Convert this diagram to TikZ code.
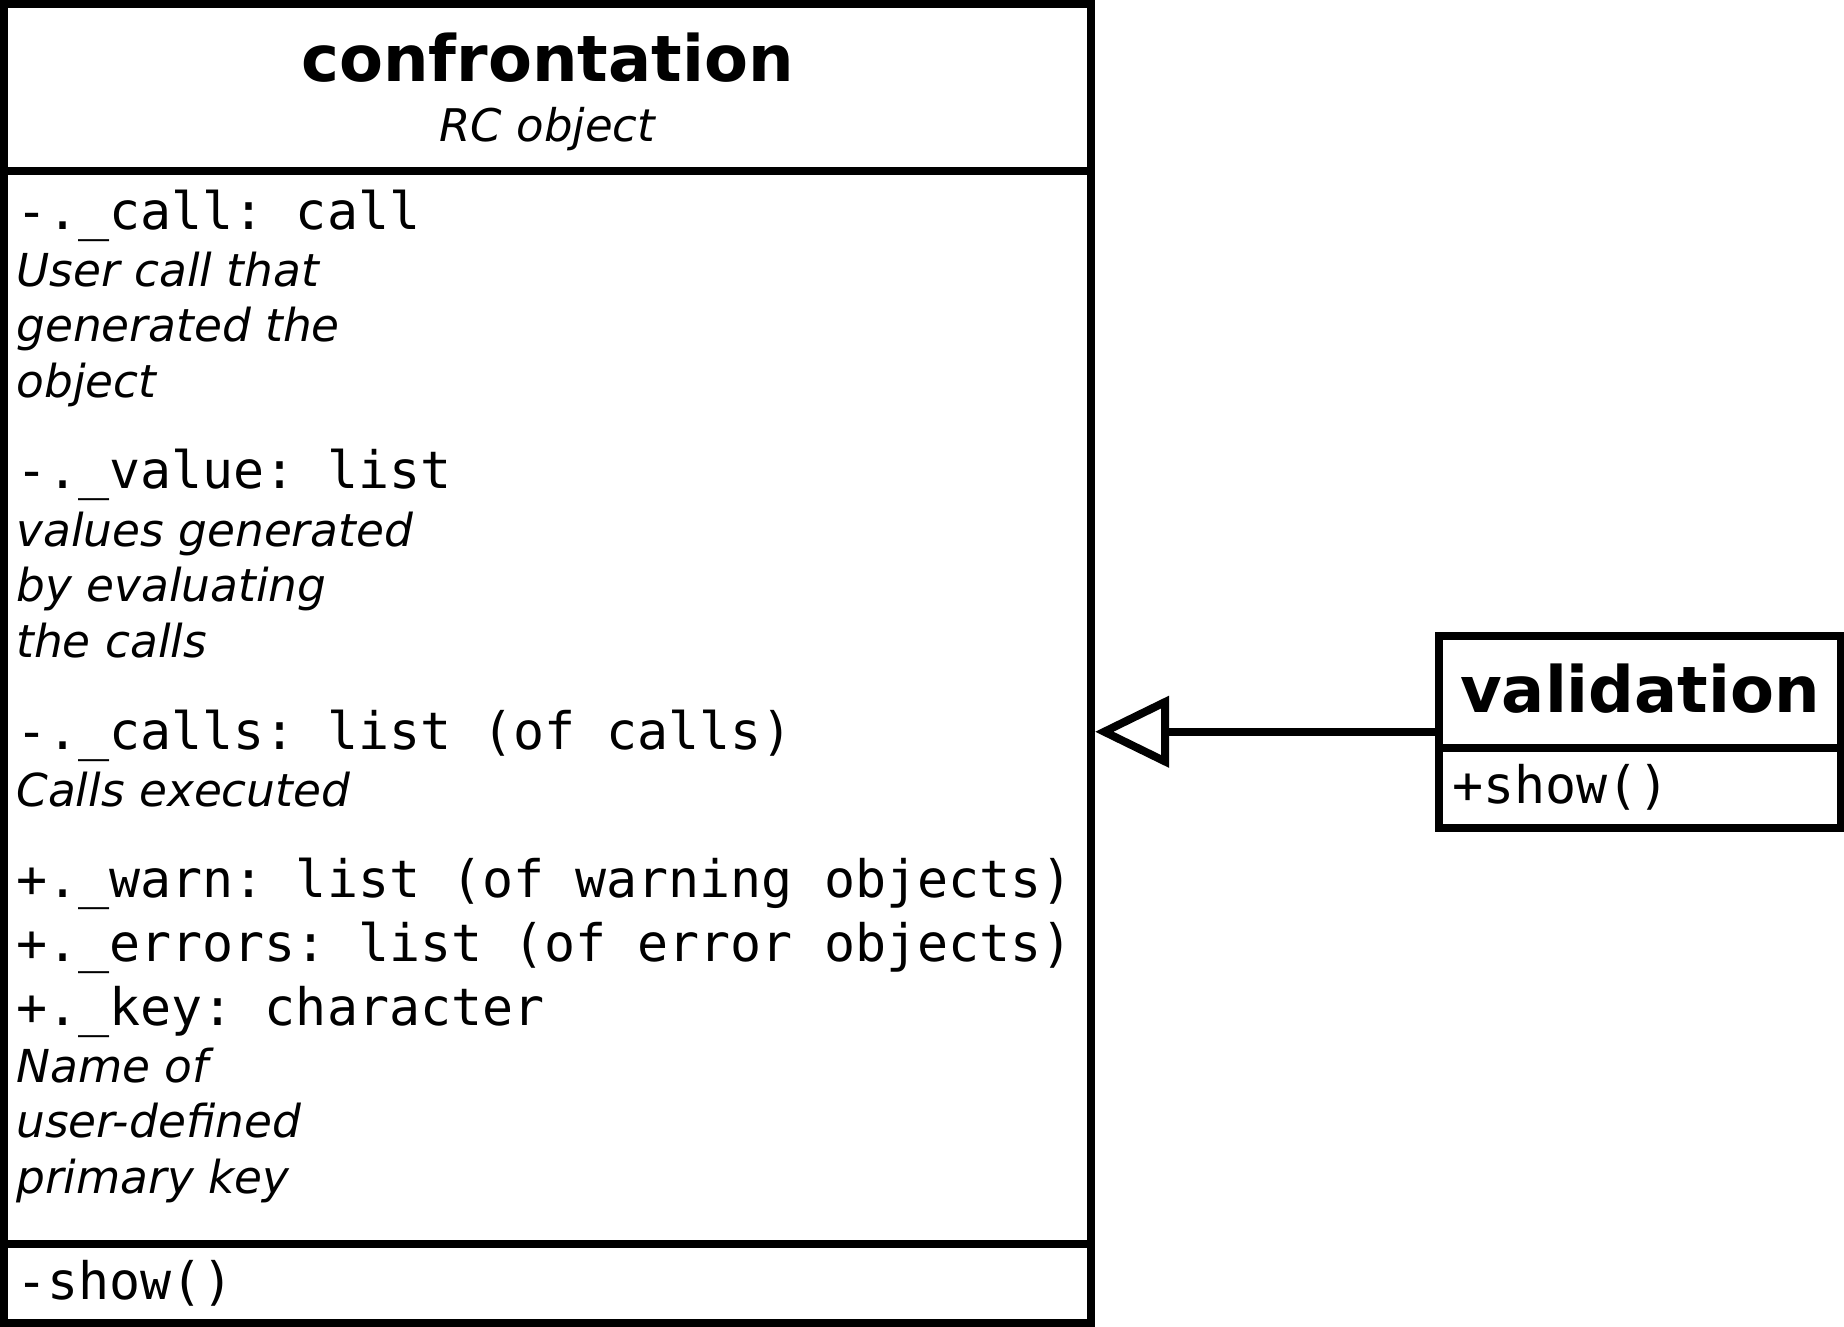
\documentclass[tikz,border=0pt]{standalone}
\usepackage{fontspec}
\setmainfont{DejaVu Sans}
\setmonofont{DejaVu Sans Mono}
\usetikzlibrary{arrows.meta,calc}

\tikzset{
  classbox/.style={draw, line width=4pt, inner sep=0pt, anchor=north west},
  divider/.style={line width=4pt},
  classname/.style={anchor=base, inner sep=0pt, font=\fontsize{32}{38}\selectfont\bfseries},
  stereotype/.style={anchor=base, inner sep=0pt, font=\fontsize{22.5}{28}\selectfont\itshape},
  attr/.style={anchor=base west, inner sep=0pt, font=\fontsize{25.8}{32}\selectfont\ttfamily},
  note/.style={anchor=base west, inner sep=0pt, font=\fontsize{22.7}{28}\selectfont\itshape},
  inherit/.style={line width=4pt, -{Triangle[open, length=37pt, width=35pt]}}
}

\begin{document}
\begin{tikzpicture}[x=0.5pt, y=-0.5pt]
  %%%%% START %%%%%
  \def\xt{16}
  \def\xv{1452}
  \def\ycx{547.5}
  \useasboundingbox (0,0) rectangle (1844,1327);

  % class boxes
  \node[classbox, minimum width=543.5pt, minimum height=659.5pt] (confr) at (0,0) {};
  \node[classbox, minimum width=201pt, minimum height=95.75pt] (valid) at (1435,632) {};

  % compartments
  \draw[divider] (confr.west |- 0,171) -- (confr.east |- 0,171);
  \draw[divider] (confr.west |- 0,1244) -- (confr.east |- 0,1244);
  \draw[divider] (valid.west |- 0,748) -- (valid.east |- 0,748);

  % confrontation
  \node[classname] (confr-name) at (\ycx,82) {confrontation};
  \node[stereotype] (confr-stereo) at (\ycx,141) {RC object};

  \node[attr] (att-call) at (\xt,229) {-.\_call: call};
  \node[note] (not-call-a) at (\xt,286) {User call that};
  \node[note] (not-call-b) at (\xt,341) {generated the};
  \node[note] (not-call-c) at (\xt,397) {object};

  \node[attr] (att-value) at (\xt,488) {-.\_value: list};
  \node[note] (not-value-a) at (\xt,546) {values generated};
  \node[note] (not-value-b) at (\xt,601) {by evaluating};
  \node[note] (not-value-c) at (\xt,657) {the calls};

  \node[attr] (att-calls) at (\xt,749) {-.\_calls: list (of calls)};
  \node[note] (not-calls) at (\xt,806) {Calls executed};

  \node[attr] (att-warn) at (\xt,897) {+.\_warn: list (of warning objects)};
  \node[attr] (att-errors) at (\xt,961) {+.\_errors: list (of error objects)};
  \node[attr] (att-key) at (\xt,1025) {+.\_key: character};
  \node[note] (not-key-a) at (\xt,1082) {Name of};
  \node[note] (not-key-b) at (\xt,1137) {user-defined};
  \node[note] (not-key-c) at (\xt,1193) {primary key};

  \node[attr] (met-show) at (\xt,1299) {-show()};

  % validation
  \node[classname] (valid-name) at (valid.north |- 0,712) {validation};
  \node[attr] (valid-show) at (\xv,803) {+show()};

  % inheritance
  \draw[inherit] (valid.west) -- (confr.east |- valid.west);
  %%%%% END %%%%%
\end{tikzpicture}
\end{document}
